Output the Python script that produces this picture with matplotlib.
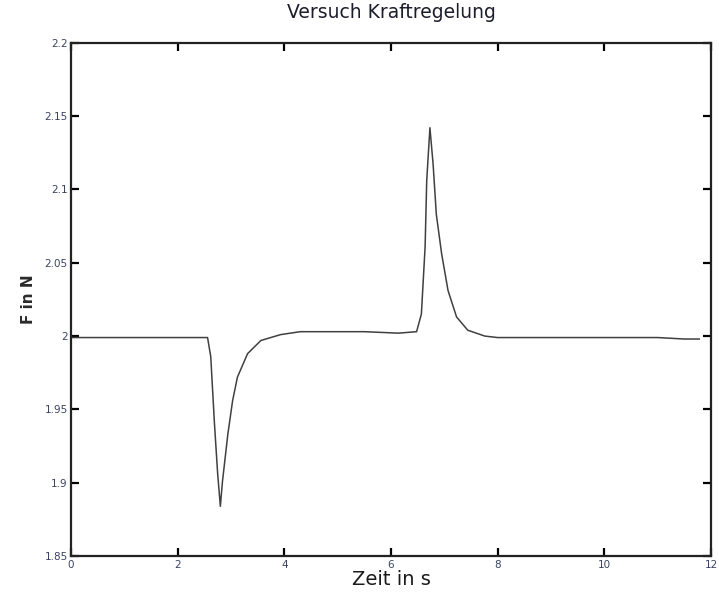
import matplotlib
matplotlib.use("Agg")
import matplotlib.pyplot as plt

plt.rcParams['font.family'] = ['DejaVu Sans']

# Time in s and force in N
zeit = [0.0, 0.5, 1.0, 1.5, 2.0, 2.31, 2.56, 2.62, 2.69, 2.75, 2.80, 2.84,
        2.94, 3.03, 3.12, 3.31, 3.56, 3.93, 4.30, 5.0, 5.5, 6.14, 6.48,
        6.57, 6.64, 6.67, 6.73, 6.79, 6.85, 6.95, 7.07, 7.23, 7.44, 7.76,
        8.0, 8.5, 9.0, 9.5, 10.0, 10.5, 11.0, 11.5, 11.78]
kraft = [1.999, 1.999, 1.999, 1.999, 1.999, 1.999, 1.999, 1.986, 1.940, 1.906,
         1.884, 1.901, 1.933, 1.956, 1.972, 1.988, 1.997, 2.001, 2.003, 2.003,
         2.003, 2.002, 2.003, 2.015, 2.061, 2.106, 2.142, 2.117, 2.083, 2.056,
         2.031, 2.013, 2.004, 2.000, 1.999, 1.999, 1.999, 1.999, 1.999, 1.999,
         1.999, 1.998, 1.998]

x_ticks = [0, 2, 4, 6, 8, 10, 12]
y_ticks = [1.85, 1.9, 1.95, 2.0, 2.05, 2.1, 2.15, 2.2]
y_tick_labels = ['1.85', '1.9', '1.95', '2', '2.05', '2.1', '2.15', '2.2']

fig = plt.figure(figsize=(7.19, 5.94), dpi=100)
ax = fig.add_axes([0.0988, 0.0637, 0.8900, 0.8645])

ax.plot(zeit, kraft, color='#404040', linewidth=1.1)

ax.set_xlim(0, 12)
ax.set_ylim(1.85, 2.2)
ax.set_xticks(x_ticks)
ax.set_xticklabels([str(t) for t in x_ticks])
ax.set_yticks(y_ticks)
ax.set_yticklabels(y_tick_labels)

ax.tick_params(direction='in', length=6, width=1.6, top=True, right=True,
               labelsize=7.5, labelcolor='#3a4260', pad=2.5)
for s in ax.spines.values():
    s.set_linewidth(1.6)
    s.set_color('#222222')

ax.set_title('Versuch Kraftregelung', fontsize=13.5, color='#1c1c2c', pad=18)
ax.set_xlabel('Zeit in s', fontsize=14, color='#1a1a1a', labelpad=0)
ax.set_ylabel('F in N', fontsize=11, fontweight='bold', color='#2a2a2a', labelpad=6)

fig.savefig('out.png', dpi=100)
